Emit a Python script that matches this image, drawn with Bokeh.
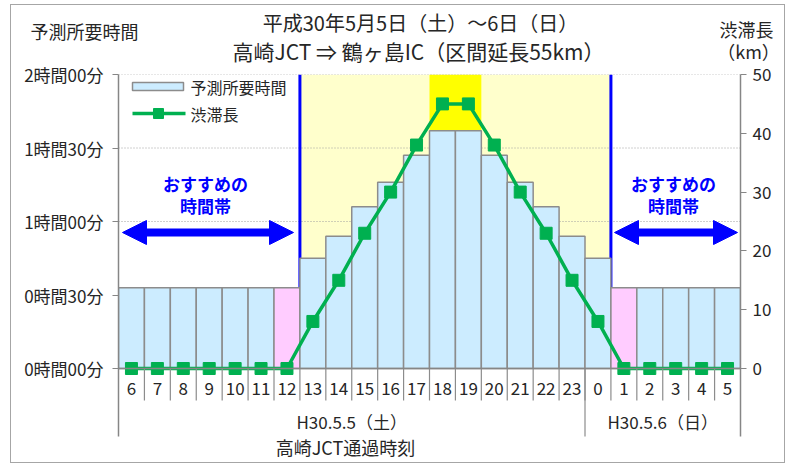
from bokeh.plotting import figure
from bokeh.models import Range1d, LinearAxis, FixedTicker, Span, Arrow, NormalHead, ColumnDataSource
from bokeh.core.properties import value
from bokeh.embed import file_html
from bokeh.resources import INLINE

# ---------------- data ----------------
hours = ["6", "7", "8", "9", "10", "11", "12", "13", "14", "15", "16", "17",
         "18", "19", "20", "21", "22", "23", "0", "1", "2", "3", "4", "5"]
travel_min = [33, 33, 33, 33, 33, 33, 33, 45, 54, 66, 76, 87,
              97, 97, 87, 76, 66, 54, 45, 33, 33, 33, 33, 33]
jam_km = [0, 0, 0, 0, 0, 0, 0, 8, 15, 23, 30, 38,
          45, 45, 38, 30, 23, 15, 8, 0, 0, 0, 0, 0]
time_ticks = [0, 30, 60, 90, 120]
time_tick_labels = ["0時間00分", "0時間30分", "1時間00分", "1時間30分", "2時間00分"]
km_ticks = [0, 10, 20, 30, 40, 50]
day_labels = ["H30.5.5（土）", "H30.5.6（日）"]
day_counts = [18, 6]
pink_hours = ["12", "1"]
busy_first, busy_last = "13", "0"
peak_hours = ["18", "19"]
title_lines = ["平成30年5月5日（土）～6日（日）", "高崎JCT ⇒ 鶴ヶ島IC（区間延長55km）"]
left_title = "予測所要時間"
right_title = ["渋滞長", "（km）"]
x_title = "高崎JCT通過時刻"
legend_labels = ["予測所要時間", "渋滞長"]
recommend_text = ["おすすめの", "時間帯"]

# ---------------- layout (image pixel geometry) ----------------
FONT = "Noto Sans CJK JP"
LEFT0, TOP0 = 11, 5          # content origin inside the outer border
W = 775
HH = 62                      # header height
OVERLAP = 5                  # main figure slides under the header's bottom strip
MAIN_TOP = TOP0 + HH - OVERLAP
IMG_L, IMG_R, IMG_T, IMG_AXB, IMG_Y0, IMG_B = 118, 740, 75, 437, 369, 464
HM = IMG_B - MAIN_TOP
n = len(hours)
ppx = (IMG_R - IMG_L) / n
ppm = (IMG_Y0 - IMG_T) / time_ticks[-1]
ppk = (IMG_Y0 - IMG_T) / km_ticks[-1]


def dx(px):
    return (px - IMG_L) / ppx


def dy(py):
    return (IMG_Y0 - py) / ppm


def dk(py):
    return (IMG_Y0 - py) / ppk


GREY = "#8C8C8C"
TXT = "#262626"
BLUE = "#0000FF"
GREEN = "#00B050"
BORDER = "1px solid #A6A6A6"

# ---------------- header (titles) ----------------
head = figure(width=W, height=HH, x_range=Range1d(LEFT0, LEFT0 + W), y_range=Range1d(TOP0 + HH, TOP0),
              output_backend="svg", toolbar_location=None, x_axis_location=None, y_axis_location=None,
              min_border=0, min_border_left=0, min_border_right=0, min_border_top=0, min_border_bottom=0)
head.xgrid.visible = False
head.ygrid.visible = False
head.outline_line_color = None
head.text(x=[420], y=[22], text=[title_lines[0]], text_align="center", text_baseline="middle",
          text_font=value(FONT), text_font_size="20px", text_color=TXT)
head.text(x=[418], y=[50], text=[title_lines[1]], text_align="center", text_baseline="middle",
          text_font=value(FONT), text_font_size="21px", text_color=TXT)
head.text(x=[84], y=[30], text=[left_title], text_align="center", text_baseline="middle",
          text_font=value(FONT), text_font_size="18px", text_color=TXT)
head.text(x=[746, 748], y=[28, 50], text=right_title, text_align="center", text_baseline="middle",
          text_font=value(FONT), text_font_size="18px", text_color=TXT)
head.styles = {"border": BORDER, "border-bottom": "none",
               "margin": f"{TOP0 - 1}px 0 0 {LEFT0 - 1}px"}

# ---------------- main chart ----------------
p = figure(width=W, height=HM, x_range=Range1d(0, n),
           y_range=Range1d(dy(IMG_B), time_ticks[-1]),
           output_backend="svg", toolbar_location=None,
           x_axis_location=None, y_axis_location=None,
           min_border_left=IMG_L - LEFT0, min_border_right=LEFT0 + W - IMG_R,
           min_border_top=IMG_T - MAIN_TOP, min_border_bottom=0)
p.extra_y_ranges = {"km": Range1d(dk(IMG_B), km_ticks[-1])}
p.xgrid.visible = False
p.ygrid.visible = False
p.outline_line_color = None
p.background_fill_color = "white"
p.border_fill_color = None
p.styles = {"border": BORDER, "border-top": "none",
            "margin": f"-{OVERLAP}px 0 0 {LEFT0 - 1}px"}

xs = [i + 0.5 for i in range(n)]
colors = ["#FFCCFF" if h in pink_hours else "#CCECFF" for h in hours]
src = ColumnDataSource(dict(x=xs, t=travel_min, k=jam_km, c=colors, h=hours))

# highlighted time band
b0, b1 = hours.index(busy_first), hours.index(busy_last) + 1
p.quad(left=b0, right=b1, bottom=0, top=time_ticks[-1], fill_color="#FFFFCC", line_color=None)
pk0, pk1 = hours.index(peak_hours[0]), hours.index(peak_hours[-1]) + 1
p.quad(left=pk0, right=pk1, bottom=0, top=time_ticks[-1], fill_color="#FFFF00", line_color=None)

# dotted grid
for g in time_ticks[1:]:
    p.segment(x0=0, x1=n, y0=g, y1=g, line_color="#A0A0A0", line_dash="1 2", line_width=1)

# blue boundaries
p.segment(x0=[b0, b1], x1=[b0, b1], y0=[0, 0], y1=[time_ticks[-1]] * 2, line_color=BLUE, line_width=3)

# bars
p.vbar(x="x", top="t", bottom=0, width=1, source=src, fill_color="c", line_color=GREY, line_width=1.5)
p.add_layout(Span(location=0, dimension="width", line_color="#868686", line_width=1.5))

# jam line
p.line(x="x", y="k", source=src, y_range_name="km", line_color=GREEN, line_width=3.5)
p.scatter(x="x", y="k", source=src, y_range_name="km", marker="square", size=12,
          fill_color=GREEN, line_color=GREEN)

# category separators and labels
p.segment(x0=list(range(1, n)), x1=list(range(1, n)), y0=[0] * (n - 1), y1=[dy(401)] * (n - 1),
          line_color=GREY, line_width=1.2)
p.text(x="x", y=dy(389), text="h", source=src, text_align="center", text_baseline="middle",
       text_font=value(FONT), text_font_size="17px", text_color=TXT)
edges = [0]
for c in day_counts:
    edges.append(edges[-1] + c)
p.segment(x0=edges[1:-1], x1=edges[1:-1], y0=[0] * (len(edges) - 2), y1=[dy(IMG_AXB)] * (len(edges) - 2),
          line_color=GREY, line_width=1.2)
p.text(x=[(edges[i] + edges[i + 1]) / 2 for i in range(len(day_counts))], y=[dy(422)] * len(day_counts),
       text=day_labels, text_align="center", text_baseline="middle",
       text_font=value(FONT), text_font_size="17px", text_color=TXT)
p.text(x=[dx(345)], y=[dy(447)], text=[x_title], text_align="center", text_baseline="middle",
       text_font=value(FONT), text_font_size="18px", text_color=TXT)

# axes
la = LinearAxis(ticker=FixedTicker(ticks=time_ticks), bounds=(dy(IMG_AXB), time_ticks[-1]),
                major_label_overrides={t: l for t, l in zip(time_ticks, time_tick_labels)})
ra = LinearAxis(y_range_name="km", ticker=FixedTicker(ticks=km_ticks), bounds=(dk(IMG_AXB), km_ticks[-1]))
for ax in (la, ra):
    ax.axis_line_color = "#868686"
    ax.axis_line_width = 1.5
    ax.major_tick_line_color = "#868686"
    ax.major_tick_line_width = 1.2
    ax.major_tick_in = 0
    ax.major_tick_out = 6
    ax.minor_tick_out = 0
    ax.minor_tick_in = 0
    ax.major_label_text_font = FONT
    ax.major_label_text_font_size = "17px"
    ax.major_label_text_color = TXT
la.major_label_standoff = 9
ra.major_label_standoff = 6
p.add_layout(la, "left")
p.add_layout(ra, "right")

# legend (manual)
p.quad(left=dx(132), right=dx(183), bottom=dy(91), top=dy(83), fill_color="#CCECFF",
       line_color=GREY, line_width=1.5)
p.line(x=[dx(132), dx(185)], y=[dy(114), dy(114)], line_color=GREEN, line_width=3.5)
p.scatter(x=[dx(158)], y=[dy(114)], marker="square", size=10, fill_color=GREEN, line_color=GREEN)
p.text(x=[dx(190), dx(190)], y=[dy(87), dy(114)], text=legend_labels, text_align="left",
       text_baseline="middle", text_font=value(FONT), text_font_size="16px", text_color=TXT)

# recommended-time arrows & texts
for (xa, xb), xc in (((122, 293), 205), ((614, 737), 673)):
    p.add_layout(Arrow(x_start=dx(xa), x_end=dx(xb), y_start=dy(233), y_end=dy(233),
                       line_color=BLUE, line_width=8,
                       start=NormalHead(size=24, fill_color=BLUE, line_color=BLUE, line_width=1),
                       end=NormalHead(size=24, fill_color=BLUE, line_color=BLUE, line_width=1)))
    p.text(x=[dx(xc), dx(xc)], y=[dy(184), dy(206)], text=recommend_text, text_align="center",
           text_baseline="middle", text_font=value(FONT), text_font_size="17px",
           text_font_style="bold", text_color=BLUE)

open("out.html", "w").write(file_html([head, p], INLINE))
